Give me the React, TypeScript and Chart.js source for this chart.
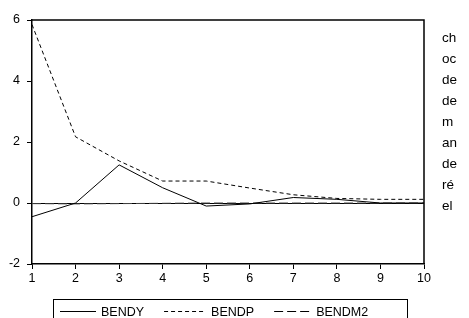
import React, { useEffect, useRef } from 'react';
import { Chart, registerables } from 'chart.js';

Chart.register(...registerables);

const periods = ['1', '2', '3', '4', '5', '6', '7', '8', '9', '10'];
const bendy = [-0.45, 0.0, 1.25, 0.5, -0.1, -0.03, 0.18, 0.12, 0.0, 0.0];
const bendp = [5.85, 2.17, 1.38, 0.72, 0.72, 0.49, 0.27, 0.15, 0.12, 0.12];
const bendm2 = [-0.02, -0.03, -0.02, -0.01, 0.0, 0.0, 0.0, 0.0, 0.0, 0.0];
const seriesNames = ['BENDY', 'BENDP', 'BENDM2'];
const yTicks = [-2, 0, 2, 4, 6];
const sideWords = ['ch', 'oc', 'de', 'de', 'm', 'an', 'de', 'ré', 'el'];

const FONT = '"Liberation Sans", Arial, sans-serif';

const framePlugin = {
  id: 'frame',
  afterDatasetsDraw(chart: any) {
    const { ctx, chartArea } = chart;
    ctx.save();
    ctx.strokeStyle = '#000';
    ctx.lineWidth = 1.5;
    ctx.beginPath();
    ctx.moveTo(chartArea.left, chartArea.top);
    ctx.lineTo(chartArea.right, chartArea.top);
    ctx.lineTo(chartArea.right, chartArea.bottom);
    ctx.stroke();
    ctx.restore();
  },
};

const legendPlugin = {
  id: 'boxLegend',
  afterDraw(chart: any) {
    const { ctx } = chart;
    const datasets = chart.data.datasets;
    ctx.save();
    ctx.strokeStyle = '#000';
    ctx.lineWidth = 1;
    ctx.strokeRect(53.5, 299.5, 354, 30);
    ctx.font = `12.5px ${FONT}`;
    ctx.textBaseline = 'middle';
    ctx.fillStyle = '#000';
    const lineLens = [36, 42, 37];
    let x = 60;
    const y = 311.5;
    datasets.forEach((ds: any, i: number) => {
      ctx.save();
      ctx.strokeStyle = '#000';
      ctx.lineWidth = 1;
      ctx.setLineDash(ds.borderDash || []);
      ctx.beginPath();
      ctx.moveTo(x, y);
      ctx.lineTo(x + lineLens[i], y);
      ctx.stroke();
      ctx.restore();
      x += lineLens[i] + 5;
      ctx.fillText(ds.label, x, y + 1);
      x += ctx.measureText(ds.label).width + 20;
    });
    ctx.restore();
  },
};

const sideTextPlugin = {
  id: 'sideText',
  afterDraw(chart: any) {
    const { ctx } = chart;
    ctx.save();
    ctx.font = `13.5px ${FONT}`;
    ctx.fillStyle = '#000';
    ctx.textBaseline = 'middle';
    ctx.textAlign = 'left';
    sideWords.forEach((w, i) => {
      ctx.fillText(w, 442, 38 + i * 21);
    });
    ctx.restore();
  },
};

export default function App() {
  const ref = useRef<HTMLCanvasElement | null>(null);

  useEffect(() => {
    if (!ref.current) return;
    const chart = new Chart(ref.current, {
      type: 'line',
      data: {
        labels: periods,
        datasets: [
          {
            label: seriesNames[0],
            data: bendy,
            borderColor: '#000',
            borderWidth: 1,
            pointRadius: 0,
            tension: 0,
            fill: false,
          },
          {
            label: seriesNames[1],
            data: bendp,
            borderColor: '#000',
            borderWidth: 1,
            borderDash: [4, 3],
            pointRadius: 0,
            tension: 0,
            fill: false,
          },
          {
            label: seriesNames[2],
            data: bendm2,
            borderColor: '#444',
            borderWidth: 1,
            borderDash: [9, 4],
            pointRadius: 0,
            tension: 0,
            fill: false,
          },
        ],
      },
      options: {
        responsive: false,
        animation: false,
        devicePixelRatio: 1,
        layout: { padding: { left: 0, top: 20, right: 45, bottom: 34 } },
        plugins: {
          legend: { display: false },
          tooltip: { enabled: false },
        },
        scales: {
          x: {
            type: 'category',
            offset: false,
            grid: {
              drawOnChartArea: false,
              drawTicks: true,
              tickLength: 5,
              color: '#000',
              tickColor: '#000',
            },
            border: { display: true, color: '#000', width: 1.5 },
            ticks: {
              color: '#000',
              font: { family: FONT, size: 12.5 },
              padding: 2,
              maxRotation: 0,
              autoSkip: false,
            },
            afterFit: (s: any) => {
              s.height = 20;
            },
          },
          y: {
            min: -2,
            max: 6,
            afterBuildTicks: (s: any) => {
              s.ticks = yTicks.map((v) => ({ value: v }));
            },
            grid: {
              drawOnChartArea: true,
              drawTicks: true,
              tickLength: 5,
              color: (c: any) => (c.tick && c.tick.value === 0 ? '#000' : 'rgba(0,0,0,0)'),
              tickColor: '#000',
            },
            border: { display: true, color: '#000', width: 1.5 },
            ticks: {
              color: '#000',
              font: { family: FONT, size: 12.5 },
              padding: 7,
            },
            afterFit: (s: any) => {
              s.width = 32;
            },
          },
        },
      },
      plugins: [framePlugin, legendPlugin, sideTextPlugin],
    } as any);
    return () => chart.destroy();
  }, []);

  return (
    <div style={{ position: 'fixed', left: 0, top: 0, width: 469, height: 318, background: '#fff' }}>
      <canvas ref={ref} width={469} height={318} />
    </div>
  );
}
